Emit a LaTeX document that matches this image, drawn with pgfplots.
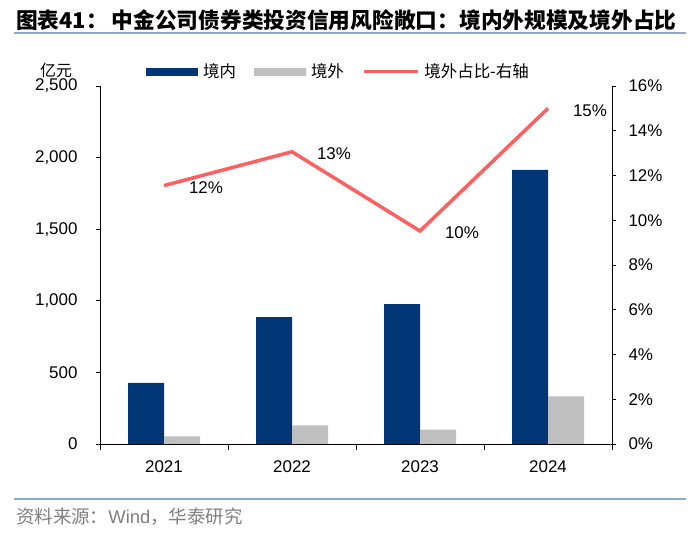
\documentclass[border=0pt]{standalone}
\usepackage{fontspec}
\setmainfont{Liberation Sans}
\newfontfamily\cjk{Noto Sans CJK SC}
\usepackage{pgfplots}
\usepackage{pgfplotstable}
\pgfplotsset{compat=1.18}

\definecolor{navy}{HTML}{003676}
\definecolor{lgray}{HTML}{BFBFBF}
\definecolor{salmon}{HTML}{FF5F5F}
\definecolor{rulebl}{HTML}{8EA9CB}
\definecolor{srcgray}{HTML}{7F7F7F}

% 境内 / 境外 scale (亿元)
\pgfplotstableread{
x dom ovs
0 426 53
1 886 130
2 977 100
3 1914 332
}\scaledata

\begin{document}
\begin{tikzpicture}[x=1bp,y=1bp]
\useasboundingbox (0,0) rectangle (700,535);

\node[anchor=west,inner sep=0pt,font=\cjk\bfseries\fontsize{21.8}{25}\selectfont] at (16,515)
  {图表41：\hspace{4bp}中金公司债券类投资信用风险敞口：境内外规模及境外占比};
\draw[rulebl,line width=2.5bp] (14,502) -- (686,502);
\draw[rulebl,line width=2.5bp] (14,36) -- (686,36);
\node[anchor=west,inner sep=0pt,text=srcgray,font=\fontsize{18.5}{20}\selectfont] at (16,18)
  {{\cjk 资料来源：}Wind{\cjk ，华泰研究}};
\node[inner sep=0pt,font=\cjk\fontsize{16}{18}\selectfont] at (56,465) {亿元};

\begin{axis}[
    at={(100bp,91bp)}, anchor=south west,
    scale only axis, width=512bp, height=358bp,
    xmin=-0.5, xmax=3.5,
    ymin=0, ymax=2500,
    ytick={0,500,1000,1500,2000,2500},
    scaled y ticks=false,
    yticklabel style={xshift=-15bp, /pgf/number format/1000 sep={,}},
    xtick={0,1,2,3},
    xticklabels={2021,2022,2023,2024},
    minor xtick={-0.5,0.5,1.5,2.5,3.5},
    axis y line*=left, axis x line*=bottom,
    axis line style={black,line width=0.9bp},
    tick style={black,line width=0.9bp},
    tick align=outside,
    major tick length=4bp, minor tick length=6bp,
    major x tick style={draw=none},
    tick label style={font=\fontsize{17}{20}\selectfont},
    /pgf/number format/assume math mode=true,
    xticklabel style={yshift=-9bp},
    ybar=0pt, bar width=36bp,
    legend columns=3,
    legend style={at={(0.0898,1.04)}, anchor=west, draw=none, fill=none,
        inner sep=0pt, font=\cjk\fontsize{16.5}{18}\selectfont,
        /tikz/every even column/.append style={column sep=13bp},
        nodes={inner xsep=5bp}},
]
\addplot[fill=navy, draw=none,
    legend image code/.code={\fill[navy] (0bp,-4bp) rectangle (52bp,4bp);}]
    table[x=x, y=dom] {\scaledata};
\addlegendentry{境内}
\addplot[fill=lgray, draw=none,
    legend image code/.code={\fill[lgray] (0bp,-4bp) rectangle (52bp,4bp);}]
    table[x=x, y=ovs] {\scaledata};
\addlegendentry{境外}
\addlegendimage{salmon, line width=3.5bp,
    legend image code/.code={\draw[salmon,line width=3.5bp] (0bp,0bp) -- (54bp,0bp);}}
\addlegendentry{境外占比-右轴}
\end{axis}

\begin{axis}[
    at={(100bp,91bp)}, anchor=south west,
    scale only axis, width=512bp, height=358bp,
    xmin=-0.5, xmax=3.5,
    ymin=0, ymax=16,
    ytick={0,2,4,6,8,10,12,14,16},
    yticklabel={\pgfmathprintnumber{\tick}\%},
    axis y line*=right, axis x line=none,
    axis line style={black,line width=0.9bp},
    tick style={black,line width=0.9bp},
    tick align=outside, major tick length=4bp,
    tick label style={font=\fontsize{17}{20}\selectfont},
    yticklabel style={xshift=9bp},
    /pgf/number format/assume math mode=true,
    point meta=explicit symbolic,
    nodes near coords,
    every node near coord/.append style={anchor=center, xshift=42bp, yshift=-2bp,
        font=\fontsize{17}{20}\selectfont, black},
]
\addplot[salmon, line width=3.5bp, mark=none] coordinates {
    (0,11.55) [12\%]
    (1,13.06) [13\%]
    (2,9.52) [10\%]
    (3,15.0) [15\%]
};
\end{axis}
\end{tikzpicture}
\end{document}
